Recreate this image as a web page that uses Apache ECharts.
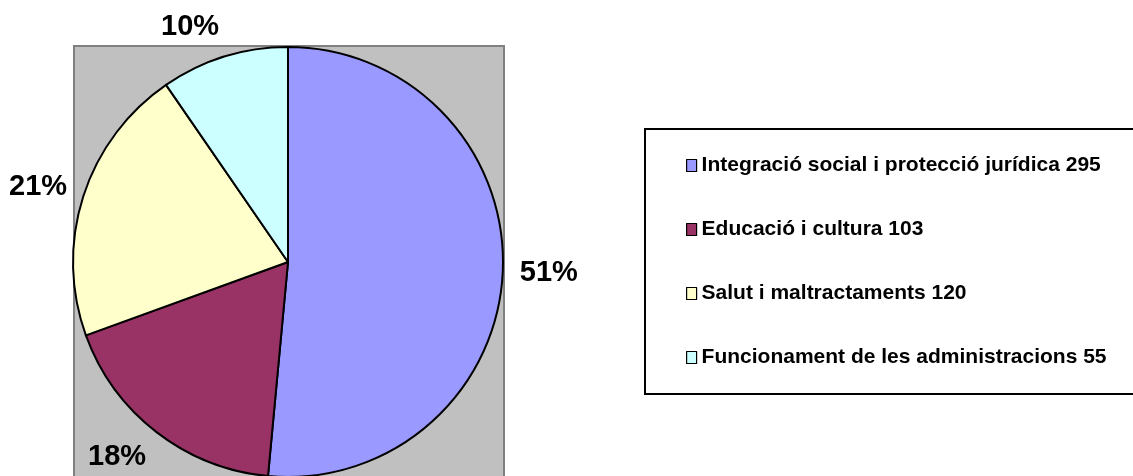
<!DOCTYPE html>
<html>
<head>
<meta charset="utf-8">
<title>Pie</title>
<script src="https://cdn.jsdelivr.net/npm/echarts@6/dist/echarts.min.js"></script>
<style>
  html, body { margin: 0; padding: 0; background: #fff; }
  #chart { width: 1133px; height: 476px; }
</style>
</head>
<body>
<div id="chart"></div>
<script>
// categories and values
var categories = [
  "Integració social i protecció jurídica",
  "Educació i cultura",
  "Salut i maltractaments",
  "Funcionament de les administracions"
];
var values = [295, 103, 120, 55];
var colors = ["#9999FF", "#993366", "#FFFFCC", "#CCFFFF"];

var CX = 288, CY = 262, R = 215;

var total = values.reduce(function (a, b) { return a + b; }, 0);

var pieData = categories.map(function (name, i) {
  return { name: name, value: values[i], itemStyle: { color: colors[i] } };
});

var chart = echarts.init(document.getElementById("chart"));

chart.setOption({
  animation: false,
  textStyle: { fontFamily: "Liberation Sans, Arial, sans-serif" },
  // gray plot area behind the pie
  graphic: [
    {
      type: "rect",
      z: -10,
      shape: { x: 74, y: 46, width: 430, height: 440 },
      style: { fill: "#C0C0C0", stroke: "#808080", lineWidth: 2 }
    }
  ],
  legend: {
    orient: "vertical",
    left: 645,
    top: 129,
    padding: [26, 48, 26, 41],
    itemGap: 43,
    itemWidth: 10,
    itemHeight: 12,
    icon: "rect",
    borderColor: "#000",
    borderWidth: 2,
    backgroundColor: "#fff",
    data: categories,
    itemStyle: { borderColor: "#000", borderWidth: 1.2 },
    formatter: function (name) {
      return name + " " + values[categories.indexOf(name)];
    },
    textStyle: {
      color: "#000",
      fontSize: 21,
      fontWeight: "bold",
      fontFamily: "Liberation Sans, Arial, sans-serif"
    }
  },
  series: [
    {
      type: "pie",
      center: [CX, CY],
      radius: [0, R],
      startAngle: 90,
      clockwise: true,
      silent: true,
      percentPrecision: 0,
      itemStyle: { borderColor: "#000", borderWidth: 2 },
      labelLine: { show: false },
      label: {
        show: true,
        position: "inside",
        formatter: "{d}%",
        color: "#000",
        fontSize: 29,
        fontWeight: "bold",
        fontFamily: "Liberation Sans, Arial, sans-serif"
      },
      // Excel-like outside end labels: the box's inner corner sits just off the rim
      labelLayout: function (p) {
        var i = p.dataIndex;
        var before = 0;
        for (var k = 0; k < i; k++) before += values[k];
        var mid = (before + values[i] / 2) / total * Math.PI * 2;
        var s = Math.sin(mid), c = Math.cos(mid);
        var d = R + 17;
        var w = p.labelRect.width, h = p.labelRect.height;
        return {
          x: CX + d * s + (s < 0 ? -1 : 1) * w / 2,
          y: CY - d * c - c * h / 2,
          align: "center",
          verticalAlign: "middle"
        };
      },
      data: pieData
    }
  ]
});
</script>
</body>
</html>
